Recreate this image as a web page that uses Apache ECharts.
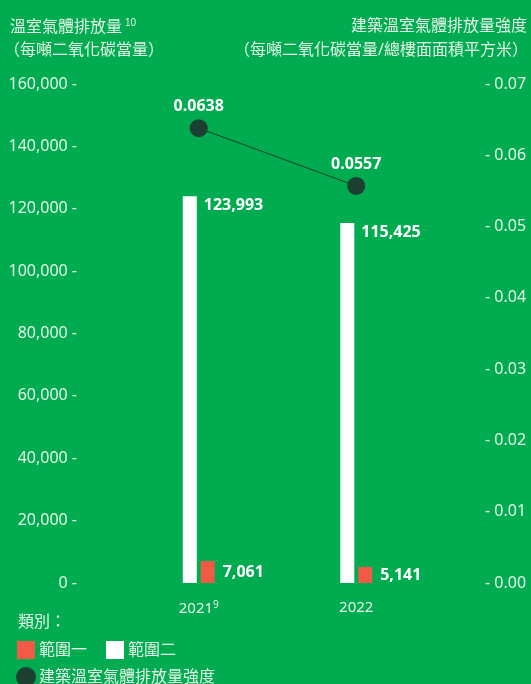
<!DOCTYPE html>
<html><head><meta charset="utf-8">
<script src="https://cdn.jsdelivr.net/npm/echarts@6/dist/echarts.min.js"></script>
<style>html,body{margin:0;padding:0;background:#00AC4F;}#c{width:531px;height:684px;}</style>
</head><body><div id="c"></div>
<script>
const categories = ['2021', '2022'];
const categoryLabels = ['2021{sup|9}', '2022'];
const scope1 = [7061, 5141];
const scope2 = [123993, 115425];
const intensity = [0.0638, 0.0557];
const leftTicks = [0, 20000, 40000, 60000, 80000, 100000, 120000, 140000, 160000];
const rightTicks = [0, 0.01, 0.02, 0.03, 0.04, 0.05, 0.06, 0.07];

const FONT = '"Noto Sans", "Noto Sans CJK TC", sans-serif';
const TXT = '#e4f3e8';
const chart = echarts.init(document.getElementById('c'));
chart.setOption({
  backgroundColor: '#00AC4F',
  animation: false,
  textStyle: { fontFamily: FONT },
  grid: { left: 120, right: 96, top: 84, bottom: 101 },
  xAxis: {
    type: 'category', data: categories,
    axisLine: { show: false }, axisTick: { show: false },
    axisLabel: {
      color: TXT, fontSize: 15, margin: 17, fontFamily: FONT,
      formatter: (v, i) => categoryLabels[i],
      rich: { sup: { fontSize: 10, verticalAlign: 'top', color: TXT, padding: [0, 0, 8, 0] } }
    }
  },
  yAxis: [
    {
      type: 'value', min: 0, max: 160000, interval: 20000,
      splitLine: { show: false }, axisLine: { show: false }, axisTick: { show: false },
      axisLabel: { color: TXT, fontSize: 16, margin: 43, fontFamily: FONT,
        formatter: v => v.toLocaleString('en-US') + ' -' }
    },
    {
      type: 'value', min: 0, max: 0.07, interval: 0.01,
      splitLine: { show: false }, axisLine: { show: false }, axisTick: { show: false },
      axisLabel: { color: TXT, fontSize: 16, margin: 50, fontFamily: FONT,
        formatter: v => '- ' + v.toFixed(2) }
    }
  ],
  legend: [
    {
      left: 17, top: 641, padding: 0, itemWidth: 18, itemHeight: 18, itemGap: 19,
      icon: 'rect', data: ['範圍一', '範圍二'],
      textStyle: { color: TXT, fontSize: 16, fontFamily: FONT, padding: [0, 0, 0, -1] }, itemStyle: { borderWidth: 0 }
    },
    {
      left: 16, top: 667, padding: 0, itemWidth: 20, itemHeight: 20,
      icon: 'circle', data: ['建築溫室氣體排放量強度'],
      textStyle: { color: TXT, fontSize: 16, fontFamily: FONT, padding: [0, 0, 0, -2] }
    }
  ],
  graphic: [
    { type: 'text', left: 10, top: 18, style: { text: '溫室氣體排放量{sup|10}', fill: TXT, font: '16px ' + FONT,
      rich: { sup: { fontSize: 10, verticalAlign: 'top', padding: [0,0,8,3], fill: TXT } } } },
    { type: 'text', left: 4, top: 42, style: { text: '（每噸二氧化碳當量）', fill: TXT, font: '16px ' + FONT } },
    { type: 'text', right: 4, top: 18, style: { text: '建築溫室氣體排放量強度', fill: TXT, font: '16px ' + FONT } },
    { type: 'text', right: 3, top: 42, style: { text: '（每噸二氧化碳當量/總樓面面積平方米）', fill: TXT, font: '16px ' + FONT } },
    { type: 'text', left: 18, top: 614, style: { text: '類別：', fill: TXT, font: '16px ' + FONT } }
  ],
  series: [
    {
      name: '範圍二', type: 'bar', data: scope2, barWidth: 14, barGap: '28%',
      itemStyle: { color: '#ffffff' },
      label: { show: true, position: [21, 9], align: 'left', verticalAlign: 'middle',
        color: '#fff', fontWeight: 'bold', fontSize: 16, fontFamily: FONT,
        formatter: p => p.value.toLocaleString('en-US') }
    },
    {
      name: '範圍一', type: 'bar', data: scope1, barWidth: 14,
      itemStyle: { color: '#F15A45' },
      label: { show: true, position: 'right', distance: 8,
        color: '#fff', fontWeight: 'bold', fontSize: 16, fontFamily: FONT,
        formatter: p => p.value.toLocaleString('en-US') }
    },
    {
      name: '建築溫室氣體排放量強度', type: 'line', yAxisIndex: 1, data: intensity,
      symbol: 'circle', symbolSize: 18,
      lineStyle: { color: '#1B3F30', width: 1 },
      itemStyle: { color: '#1B3F30' },
      label: { show: true, position: 'top', distance: 5, color: '#fff', fontWeight: 'bold', fontSize: 16, fontFamily: FONT,
        formatter: p => p.value.toFixed(4) },
      z: 5
    }
  ]
});
</script></body></html>
